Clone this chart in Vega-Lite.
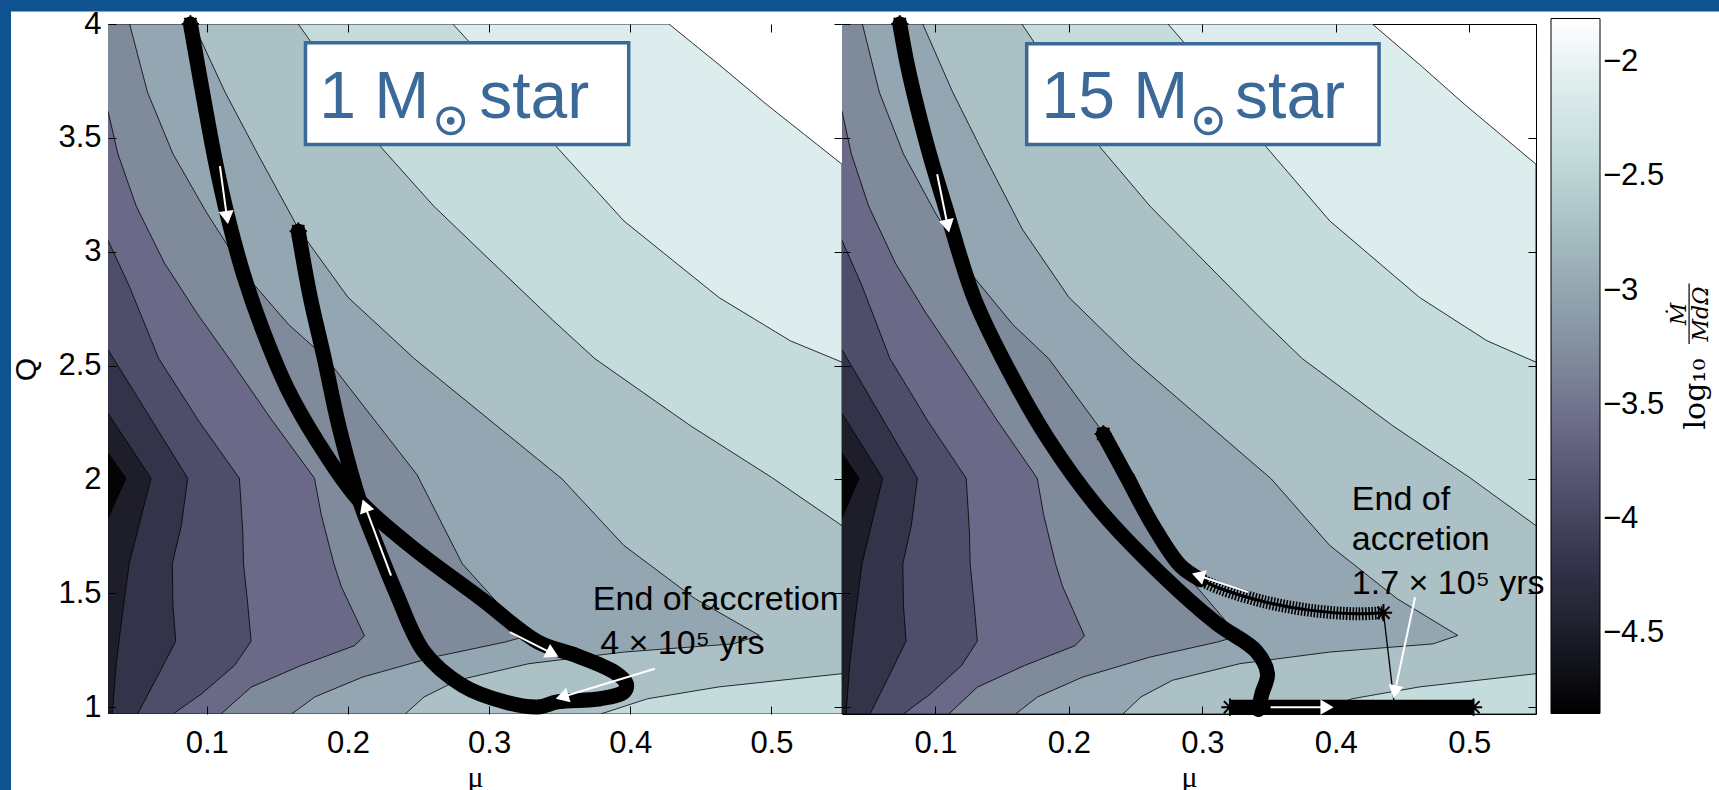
{
  "$schema": "https://vega.github.io/schema/vega-lite/v6.json",
  "background": "#0e5290",
  "padding": {"left": 10, "top": 7, "right": 0, "bottom": 0},
  "bounds": "flush",
  "spacing": 0,
  "config": {
    "view": {"stroke": "black", "strokeWidth": 1},
    "axis": {"grid": false, "labelFlush": false, "labelOverlap": false, "labelBound": false}
  },
  "datasets": {
    "poly": [
      {"p":1,"i":0,"mu":0.03,"q":4.0,"v":-2.1},{"p":1,"i":1,"mu":0.4274,"q":4.0,"v":-2.1},{"p":1,"i":2,"mu":0.4628,"q":3.822,"v":-2.1},{"p":1,"i":3,"mu":0.4965,"q":3.647,"v":-2.1},{"p":1,"i":4,"mu":0.5234,"q":3.515,"v":-2.1},{"p":1,"i":5,"mu":0.55,"q":3.384,"v":-2.1},{"p":1,"i":6,"mu":0.55,"q":0.97,"v":-2.1},{"p":1,"i":7,"mu":0.03,"q":0.97,"v":-2.1},
      {"p":2,"i":0,"mu":0.03,"q":4.0,"v":-2.4},{"p":2,"i":1,"mu":0.2743,"q":4.0,"v":-2.4},{"p":2,"i":2,"mu":0.3113,"q":3.749,"v":-2.4},{"p":2,"i":3,"mu":0.3483,"q":3.457,"v":-2.4},{"p":2,"i":4,"mu":0.3955,"q":3.135,"v":-2.4},{"p":2,"i":5,"mu":0.4628,"q":2.799,"v":-2.4},{"p":2,"i":6,"mu":0.5133,"q":2.609,"v":-2.4},{"p":2,"i":7,"mu":0.55,"q":2.515,"v":-2.4},{"p":2,"i":8,"mu":0.55,"q":0.97,"v":-2.4},{"p":2,"i":9,"mu":0.03,"q":0.97,"v":-2.4},
      {"p":3,"i":0,"mu":0.03,"q":4.0,"v":-2.7},{"p":3,"i":1,"mu":0.1648,"q":4.0,"v":-2.7},{"p":3,"i":2,"mu":0.1934,"q":3.749,"v":-2.7},{"p":3,"i":3,"mu":0.2237,"q":3.457,"v":-2.7},{"p":3,"i":4,"mu":0.2608,"q":3.2,"v":-2.7},{"p":3,"i":5,"mu":0.3113,"q":2.9,"v":-2.7},{"p":3,"i":6,"mu":0.345,"q":2.7,"v":-2.7},{"p":3,"i":7,"mu":0.375,"q":2.53,"v":-2.7},{"p":3,"i":8,"mu":0.4426,"q":2.236,"v":-2.7},{"p":3,"i":9,"mu":0.4999,"q":2.01,"v":-2.7},{"p":3,"i":10,"mu":0.55,"q":1.797,"v":-2.7},{"p":3,"i":11,"mu":0.55,"q":1.147,"v":-2.7},{"p":3,"i":12,"mu":0.4628,"q":1.089,"v":-2.7},{"p":3,"i":13,"mu":0.4123,"q":1.037,"v":-2.7},{"p":3,"i":14,"mu":0.379,"q":0.97,"v":-2.7},{"p":3,"i":15,"mu":0.03,"q":0.97,"v":-2.7},
      {"p":4,"i":0,"mu":0.03,"q":4.0,"v":-3.0},{"p":4,"i":1,"mu":0.0905,"q":4.0,"v":-3.0},{"p":4,"i":2,"mu":0.113,"q":3.7,"v":-3.0},{"p":4,"i":3,"mu":0.136,"q":3.43,"v":-3.0},{"p":4,"i":4,"mu":0.165,"q":3.1,"v":-3.0},{"p":4,"i":5,"mu":0.2,"q":2.8,"v":-3.0},{"p":4,"i":6,"mu":0.2473,"q":2.529,"v":-3.0},{"p":4,"i":7,"mu":0.3517,"q":2.002,"v":-3.0},{"p":4,"i":8,"mu":0.3955,"q":1.71,"v":-3.0},{"p":4,"i":9,"mu":0.446,"q":1.476,"v":-3.0},{"p":4,"i":10,"mu":0.4914,"q":1.315,"v":-3.0},{"p":4,"i":11,"mu":0.4729,"q":1.278,"v":-3.0},{"p":4,"i":12,"mu":0.3955,"q":1.242,"v":-3.0},{"p":4,"i":13,"mu":0.3281,"q":1.191,"v":-3.0},{"p":4,"i":14,"mu":0.2776,"q":1.118,"v":-3.0},{"p":4,"i":15,"mu":0.254,"q":1.045,"v":-3.0},{"p":4,"i":16,"mu":0.2405,"q":0.97,"v":-3.0},{"p":4,"i":17,"mu":0.03,"q":0.97,"v":-3.0},
      {"p":5,"i":0,"mu":0.03,"q":4.0,"v":-3.3},{"p":5,"i":1,"mu":0.0453,"q":4.0,"v":-3.3},{"p":5,"i":2,"mu":0.058,"q":3.7,"v":-3.3},{"p":5,"i":3,"mu":0.076,"q":3.43,"v":-3.3},{"p":5,"i":4,"mu":0.1,"q":3.17,"v":-3.3},{"p":5,"i":5,"mu":0.13,"q":2.88,"v":-3.3},{"p":5,"i":6,"mu":0.158,"q":2.68,"v":-3.3},{"p":5,"i":7,"mu":0.185,"q":2.53,"v":-3.3},{"p":5,"i":8,"mu":0.249,"q":2.02,"v":-3.3},{"p":5,"i":9,"mu":0.281,"q":1.63,"v":-3.3},{"p":5,"i":10,"mu":0.327,"q":1.313,"v":-3.3},{"p":5,"i":11,"mu":0.3113,"q":1.286,"v":-3.3},{"p":5,"i":12,"mu":0.2608,"q":1.22,"v":-3.3},{"p":5,"i":13,"mu":0.2103,"q":1.132,"v":-3.3},{"p":5,"i":14,"mu":0.1766,"q":1.045,"v":-3.3},{"p":5,"i":15,"mu":0.16,"q":0.97,"v":-3.3},{"p":5,"i":16,"mu":0.03,"q":0.97,"v":-3.3},
      {"p":6,"i":0,"mu":0.03,"q":3.617,"v":-3.6},{"p":6,"i":1,"mu":0.037,"q":3.43,"v":-3.6},{"p":6,"i":2,"mu":0.05,"q":3.2,"v":-3.6},{"p":6,"i":3,"mu":0.07,"q":2.95,"v":-3.6},{"p":6,"i":4,"mu":0.093,"q":2.73,"v":-3.6},{"p":6,"i":5,"mu":0.116,"q":2.53,"v":-3.6},{"p":6,"i":6,"mu":0.145,"q":2.27,"v":-3.6},{"p":6,"i":7,"mu":0.1763,"q":2.005,"v":-3.6},{"p":6,"i":8,"mu":0.181,"q":1.847,"v":-3.6},{"p":6,"i":9,"mu":0.19,"q":1.63,"v":-3.6},{"p":6,"i":10,"mu":0.1952,"q":1.531,"v":-3.6},{"p":6,"i":11,"mu":0.2117,"q":1.313,"v":-3.6},{"p":6,"i":12,"mu":0.2046,"q":1.27,"v":-3.6},{"p":6,"i":13,"mu":0.1668,"q":1.183,"v":-3.6},{"p":6,"i":14,"mu":0.1314,"q":1.088,"v":-3.6},{"p":6,"i":15,"mu":0.11,"q":0.97,"v":-3.6},{"p":6,"i":16,"mu":0.03,"q":0.97,"v":-3.6},
      {"p":7,"i":0,"mu":0.03,"q":3.05,"v":-3.9},{"p":7,"i":1,"mu":0.045,"q":2.85,"v":-3.9},{"p":7,"i":2,"mu":0.066,"q":2.53,"v":-3.9},{"p":7,"i":3,"mu":0.095,"q":2.25,"v":-3.9},{"p":7,"i":4,"mu":0.1231,"q":2.005,"v":-3.9},{"p":7,"i":5,"mu":0.1255,"q":1.768,"v":-3.9},{"p":7,"i":6,"mu":0.126,"q":1.63,"v":-3.9},{"p":7,"i":7,"mu":0.129,"q":1.452,"v":-3.9},{"p":7,"i":8,"mu":0.1314,"q":1.29,"v":-3.9},{"p":7,"i":9,"mu":0.1196,"q":1.183,"v":-3.9},{"p":7,"i":10,"mu":0.096,"q":1.057,"v":-3.9},{"p":7,"i":11,"mu":0.076,"q":0.97,"v":-3.9},{"p":7,"i":12,"mu":0.03,"q":0.97,"v":-3.9},
      {"p":8,"i":0,"mu":0.03,"q":2.57,"v":-4.2},{"p":8,"i":1,"mu":0.034,"q":2.53,"v":-4.2},{"p":8,"i":2,"mu":0.06,"q":2.27,"v":-4.2},{"p":8,"i":3,"mu":0.0865,"q":2.005,"v":-4.2},{"p":8,"i":4,"mu":0.082,"q":1.8,"v":-4.2},{"p":8,"i":5,"mu":0.0756,"q":1.63,"v":-4.2},{"p":8,"i":6,"mu":0.076,"q":1.45,"v":-4.2},{"p":8,"i":7,"mu":0.078,"q":1.29,"v":-4.2},{"p":8,"i":8,"mu":0.068,"q":1.17,"v":-4.2},{"p":8,"i":9,"mu":0.051,"q":0.97,"v":-4.2},{"p":8,"i":10,"mu":0.03,"q":0.97,"v":-4.2},
      {"p":9,"i":0,"mu":0.03,"q":2.29,"v":-4.5},{"p":9,"i":1,"mu":0.045,"q":2.15,"v":-4.5},{"p":9,"i":2,"mu":0.0605,"q":2.005,"v":-4.5},{"p":9,"i":3,"mu":0.052,"q":1.8,"v":-4.5},{"p":9,"i":4,"mu":0.045,"q":1.63,"v":-4.5},{"p":9,"i":5,"mu":0.04,"q":1.4,"v":-4.5},{"p":9,"i":6,"mu":0.036,"q":1.2,"v":-4.5},{"p":9,"i":7,"mu":0.033,"q":0.97,"v":-4.5},{"p":9,"i":8,"mu":0.03,"q":0.97,"v":-4.5},
      {"p":10,"i":0,"mu":0.03,"q":2.116,"v":-4.8},{"p":10,"i":1,"mu":0.0428,"q":2.005,"v":-4.8},{"p":10,"i":2,"mu":0.03,"q":1.831,"v":-4.8}
    ],
    "trajL": [
      {"id":"a","i":0,"mu":0.0884,"q":4.0},{"id":"a","i":1,"mu":0.097,"q":3.7},{"id":"a","i":2,"mu":0.106,"q":3.4},{"id":"a","i":3,"mu":0.115,"q":3.15},{"id":"a","i":4,"mu":0.126,"q":2.9},{"id":"a","i":5,"mu":0.14,"q":2.65},{"id":"a","i":6,"mu":0.157,"q":2.4},{"id":"a","i":7,"mu":0.178,"q":2.17},{"id":"a","i":8,"mu":0.207,"q":1.914},{"id":"a","i":9,"mu":0.2439,"q":1.71},{"id":"a","i":10,"mu":0.2944,"q":1.476},{"id":"a","i":11,"mu":0.3348,"q":1.286},{"id":"a","i":12,"mu":0.3618,"q":1.227},{"id":"a","i":13,"mu":0.3887,"q":1.154},{"id":"a","i":14,"mu":0.3972,"q":1.103},{"id":"a","i":15,"mu":0.3955,"q":1.067},{"id":"a","i":16,"mu":0.3787,"q":1.037},{"id":"a","i":17,"mu":0.3483,"q":1.023},{"id":"a","i":18,"mu":0.3348,"q":1.001},{"id":"a","i":19,"mu":0.3113,"q":1.023},{"id":"a","i":20,"mu":0.281,"q":1.096},{"id":"a","i":21,"mu":0.254,"q":1.242},{"id":"a","i":22,"mu":0.2339,"q":1.505},{"id":"a","i":23,"mu":0.2204,"q":1.71},{"id":"a","i":24,"mu":0.2086,"q":1.9},{"id":"a","i":25,"mu":0.1935,"q":2.236},{"id":"a","i":26,"mu":0.1833,"q":2.529},{"id":"a","i":27,"mu":0.1733,"q":2.8},{"id":"a","i":28,"mu":0.1648,"q":3.09}
    ],
    "trajR": [
      {"id":"m","k":"thick","i":0,"mu":0.0733,"q":4.0},{"id":"m","k":"thick","i":1,"mu":0.079,"q":3.82},{"id":"m","k":"thick","i":2,"mu":0.086,"q":3.643},{"id":"m","k":"thick","i":3,"mu":0.096,"q":3.42},{"id":"m","k":"thick","i":4,"mu":0.1072,"q":3.202},{"id":"m","k":"thick","i":5,"mu":0.1285,"q":2.804},{"id":"m","k":"thick","i":6,"mu":0.1496,"q":2.539},{"id":"m","k":"thick","i":7,"mu":0.1836,"q":2.185},{"id":"m","k":"thick","i":8,"mu":0.2217,"q":1.876},{"id":"m","k":"thick","i":9,"mu":0.2683,"q":1.589},{"id":"m","k":"thick","i":10,"mu":0.3107,"q":1.368},{"id":"m","k":"thick","i":11,"mu":0.3403,"q":1.246},{"id":"m","k":"thick","i":12,"mu":0.3488,"q":1.147},{"id":"m","k":"thick","i":13,"mu":0.3446,"q":1.058},{"id":"m","k":"thick","i":14,"mu":0.342,"q":0.99},
      {"id":"s","k":"thick","i":0,"mu":0.2258,"q":2.2},{"id":"s","k":"thick","i":1,"mu":0.2428,"q":2.017},{"id":"s","k":"thick","i":2,"mu":0.2631,"q":1.797},{"id":"s","k":"thick","i":3,"mu":0.2834,"q":1.622},{"id":"s","k":"thick","i":4,"mu":0.2985,"q":1.56},
      {"id":"h","k":"hatch","i":0,"mu":0.2985,"q":1.56},{"id":"h","k":"hatch","i":1,"mu":0.3139,"q":1.52},{"id":"h","k":"hatch","i":2,"mu":0.3478,"q":1.461},{"id":"h","k":"hatch","i":3,"mu":0.3815,"q":1.425},{"id":"h","k":"hatch","i":4,"mu":0.4154,"q":1.41},{"id":"h","k":"hatch","i":5,"mu":0.4357,"q":1.415},
      {"id":"b","k":"band","i":0,"mu":0.3207,"q":1.0},{"id":"b","k":"band","i":1,"mu":0.5032,"q":1.0},
      {"id":"c","k":"thin","i":0,"mu":0.4357,"q":1.415},{"id":"c","k":"thin","i":1,"mu":0.4442,"q":0.993}
    ],
    "starL": [
      {"mu":0.0884,"q":4.0},{"mu":0.1648,"q":3.09}
    ],
    "starR": [
      {"mu":0.0733,"q":4.0},{"mu":0.2258,"q":2.2},{"mu":0.4357,"q":1.415},{"mu":0.3207,"q":1.0},{"mu":0.5032,"q":1.0}
    ],
    "arrL": [
      {"mu":0.1093,"q":3.376,"mu2":0.1143,"q2":3.15,"ang":172},
      {"mu":0.2305,"q":1.578,"mu2":0.212,"q2":1.885,"ang":340},
      {"mu":0.3147,"q":1.33,"mu2":0.3449,"q2":1.235,"ang":117},
      {"mu":0.4174,"q":1.169,"mu2":0.3517,"q2":1.045,"ang":253}
    ],
    "arrR": [
      {"mu":0.1013,"q":3.34,"mu2":0.1092,"q2":3.113,"ang":168},
      {"mu":0.3343,"q":1.505,"mu2":0.2969,"q2":1.578,"ang":288},
      {"mu":0.3511,"q":1.0,"mu2":0.3934,"q2":1.0,"ang":90},
      {"mu":0.4594,"q":1.483,"mu2":0.4442,"q2":1.067,"ang":192}
    ],
    "txtL": [
      {"mu":0.3735,"q":1.4254,"t":"End of accretion"},
      {"mu":0.3787,"q":1.2346,"t":"4 × 10⁵ yrs"}
    ],
    "txtR": [
      {"mu":0.412,"q":1.8676,"t":"End of"},
      {"mu":0.412,"q":1.692,"t":"accretion"},
      {"mu":0.412,"q":1.4978,"t":"1.7 × 10⁵ yrs"}
    ]
  },
  "resolve": {"scale": {"color": "independent"}, "legend": {"color": "independent"}},
  "hconcat": [
    {
      "width": 734,
      "height": 690,
      "resolve": {"axis": {"x": "independent", "y": "independent"}},
      "layer": [
        {
          "data": {"values": [{"mu": -0.03872, "mu2": 1.17166, "q": 4.05489, "q2": 0.6186}]},
          "mark": {"type": "rect", "fill": "white", "clip": false},
          "encoding": {
            "x": {"field": "mu", "type": "quantitative", "scale": {"domain": [0.03, 0.55], "nice": false, "zero": false},
                  "axis": {"orient": "top", "values": [0.1, 0.2, 0.3, 0.4, 0.5], "labels": false, "title": null, "domain": false, "tickSize": -8, "tickColor": "black", "zindex": 1}},
            "x2": {"field": "mu2"},
            "y": {"field": "q", "type": "quantitative", "scale": {"domain": [0.97, 4], "nice": false, "zero": false},
                  "axis": {"orient": "right", "values": [1, 1.5, 2, 2.5, 3, 3.5, 4], "labels": false, "title": null, "domain": false, "tickSize": -8, "tickColor": "black", "zindex": 1}},
            "y2": {"field": "q2"}
          }
        },
        {
          "data": {"name": "poly"},
          "mark": {"type": "line", "filled": true, "stroke": "black", "strokeWidth": 0.8, "strokeJoin": "round", "clip": true},
          "encoding": {
            "x": {"field": "mu", "type": "quantitative",
                  "axis": {"orient": "bottom", "values": [0.1, 0.2, 0.3, 0.4, 0.5], "format": ".1f", "title": "μ", "titleFont": "Liberation Serif", "titleFontSize": 30, "titleFontWeight": "normal", "titleColor": "black", "titlePadding": 4, "labelFont": "Liberation Sans", "labelFontSize": 31, "labelColor": "black", "labelPadding": 22, "tickSize": -8, "tickColor": "black", "domain": false, "zindex": 1}},
            "y": {"field": "q", "type": "quantitative",
                  "axis": {"orient": "left", "values": [1, 1.5, 2, 2.5, 3, 3.5, 4], "format": "~g", "title": "Q", "titleFont": "Liberation Sans", "titleFontSize": 30, "titleFontWeight": "normal", "titleColor": "black", "titlePadding": 16, "labelFont": "Liberation Sans", "labelFontSize": 31, "labelColor": "black", "labelPadding": 15, "tickSize": -8, "tickColor": "black", "domain": false, "zindex": 1}},
            "detail": {"field": "p", "type": "nominal"},
            "order": {"field": "i", "type": "quantitative"},
            "color": {"field": "v", "type": "quantitative",
                      "scale": {"type": "linear", "domain": [-4.85, -4.5, -4.2, -3.9, -3.6, -3.3, -3.0, -2.7, -2.4, -2.1, -1.81],
                                "range": ["#000000", "#1e1e2a", "#33334a", "#4e4e6a", "#6a6a88", "#7f8b9b", "#94a6b1", "#abc1c5", "#c5dcdc", "#ddecec", "#ffffff"], "interpolate": "rgb"},
                      "legend": {"orient": "none", "legendX": 1443, "legendY": -5.5, "direction": "vertical", "gradientLength": 695, "gradientThickness": 49, "title": null, "values": [-4.5, -4, -3.5, -3, -2.5, -2], "format": "~g", "labelFont": "Liberation Sans", "labelFontSize": 31, "labelColor": "black", "labelOffset": 3, "labelOverlap": false, "gradientStrokeColor": "black", "gradientStrokeWidth": 1, "zindex": 1, "padding": 0}}
          }
        },
        {
          "data": {"name": "trajL"},
          "mark": {"type": "line", "color": "black", "strokeWidth": 15, "strokeCap": "round", "strokeJoin": "round", "interpolate": "catmull-rom"},
          "encoding": {
            "x": {"field": "mu", "type": "quantitative", "axis": null},
            "y": {"field": "q", "type": "quantitative", "axis": null},
            "detail": {"field": "id", "type": "nominal"},
            "order": {"field": "i", "type": "quantitative"}
          }
        },
        {
          "data": {"name": "starL"},
          "mark": {"type": "point", "shape": "M-1,0L1,0M0,-1L0,1M-0.7,-0.7L0.7,0.7M-0.7,0.7L0.7,-0.7", "filled": false, "color": "black", "strokeWidth": 2, "size": 300, "opacity": 1},
          "encoding": {
            "x": {"field": "mu", "type": "quantitative", "axis": null},
            "y": {"field": "q", "type": "quantitative", "axis": null}
          }
        },
        {
          "data": {"name": "arrL"},
          "mark": {"type": "rule", "color": "white", "strokeWidth": 2},
          "encoding": {
            "x": {"field": "mu", "type": "quantitative", "axis": null},
            "y": {"field": "q", "type": "quantitative", "axis": null},
            "x2": {"field": "mu2"},
            "y2": {"field": "q2"}
          }
        },
        {
          "data": {"name": "arrL"},
          "mark": {"type": "point", "shape": "triangle-up", "filled": true, "color": "white", "size": 230, "opacity": 1},
          "encoding": {
            "x": {"field": "mu2", "type": "quantitative", "axis": null},
            "y": {"field": "q2", "type": "quantitative", "axis": null},
            "angle": {"field": "ang", "type": "quantitative", "scale": {"domain": [0, 360], "range": [0, 360]}}
          }
        },
        {
          "data": {"name": "txtL"},
          "mark": {"type": "text", "align": "left", "baseline": "alphabetic", "font": "Liberation Sans", "fontSize": 34, "color": "black"},
          "encoding": {
            "x": {"field": "mu", "type": "quantitative", "axis": null},
            "y": {"field": "q", "type": "quantitative", "axis": null},
            "text": {"field": "t"}
          }
        },
        {
          "data": {"values": [{"mu": 0.1699, "mu2": 0.3989, "q": 3.918, "q2": 3.471}]},
          "mark": {"type": "rect", "fill": "white", "stroke": "#3b6a98", "strokeWidth": 3.5},
          "encoding": {
            "x": {"field": "mu", "type": "quantitative", "axis": null},
            "x2": {"field": "mu2"},
            "y": {"field": "q", "type": "quantitative", "axis": null},
            "y2": {"field": "q2"}
          }
        },
        {
          "data": {"values": [{"mu": 0.1796, "q": 3.589, "t": "1 M"}, {"mu": 0.293, "q": 3.589, "t": "star"}]},
          "mark": {"type": "text", "align": "left", "baseline": "alphabetic", "font": "Liberation Sans", "fontSize": 66, "color": "#3b6a98"},
          "encoding": {
            "x": {"field": "mu", "type": "quantitative", "axis": null},
            "y": {"field": "q", "type": "quantitative", "axis": null},
            "text": {"field": "t"}
          }
        },
        {
          "data": {"values": [{"mu": 0.2728, "q": 3.575}]},
          "mark": {"type": "point", "shape": "circle", "filled": false, "stroke": "#3b6a98", "strokeWidth": 3.5, "size": 640, "opacity": 1},
          "encoding": {
            "x": {"field": "mu", "type": "quantitative", "axis": null},
            "y": {"field": "q", "type": "quantitative", "axis": null}
          }
        },
        {
          "data": {"values": [{"mu": 0.2728, "q": 3.575}]},
          "mark": {"type": "circle", "color": "#3b6a98", "size": 60, "opacity": 1},
          "encoding": {
            "x": {"field": "mu", "type": "quantitative", "axis": null},
            "y": {"field": "q", "type": "quantitative", "axis": null}
          }
        }
      ]
    },
    {
      "width": 694,
      "height": 690,
      "resolve": {"axis": {"x": "independent", "y": "independent"}},
      "layer": [
        {
          "data": {"name": "poly"},
          "mark": {"type": "line", "filled": true, "stroke": "black", "strokeWidth": 0.8, "strokeJoin": "round", "clip": true},
          "encoding": {
            "x": {"field": "mu", "type": "quantitative", "scale": {"domain": [0.03, 0.55], "nice": false, "zero": false},
                  "axis": {"orient": "bottom", "values": [0.1, 0.2, 0.3, 0.4, 0.5], "format": ".1f", "title": "μ", "titleFont": "Liberation Serif", "titleFontSize": 30, "titleFontWeight": "normal", "titleColor": "black", "titlePadding": 4, "labelFont": "Liberation Sans", "labelFontSize": 31, "labelColor": "black", "labelPadding": 22, "tickSize": -8, "tickColor": "black", "domain": false, "zindex": 1}},
            "y": {"field": "q", "type": "quantitative", "scale": {"domain": [0.97, 4], "nice": false, "zero": false},
                  "axis": {"orient": "left", "values": [1, 1.5, 2, 2.5, 3, 3.5, 4], "labels": false, "title": null, "tickSize": -8, "tickColor": "black", "domain": false, "zindex": 1}},
            "detail": {"field": "p", "type": "nominal"},
            "order": {"field": "i", "type": "quantitative"},
            "color": {"field": "v", "type": "quantitative",
                      "scale": {"type": "linear", "domain": [-4.85, -4.5, -4.2, -3.9, -3.6, -3.3, -3.0, -2.7, -2.4, -2.1, -1.81],
                                "range": ["#000000", "#1e1e2a", "#33334a", "#4e4e6a", "#6a6a88", "#7f8b9b", "#94a6b1", "#abc1c5", "#c5dcdc", "#ddecec", "#ffffff"], "interpolate": "rgb"},
                      "legend": null}
          }
        },
        {
          "data": {"name": "trajR"},
          "transform": [{"filter": "datum.k == 'thick'"}],
          "mark": {"type": "line", "color": "black", "strokeWidth": 15, "strokeCap": "round", "strokeJoin": "round", "interpolate": "catmull-rom"},
          "encoding": {
            "x": {"field": "mu", "type": "quantitative",
                  "axis": {"orient": "top", "values": [0.1, 0.2, 0.3, 0.4, 0.5], "labels": false, "title": null, "domain": false, "tickSize": -8, "tickColor": "black", "zindex": 1}},
            "y": {"field": "q", "type": "quantitative",
                  "axis": {"orient": "right", "values": [1, 1.5, 2, 2.5, 3, 3.5, 4], "labels": false, "title": null, "domain": false, "tickSize": -8, "tickColor": "black", "zindex": 1}},
            "detail": {"field": "id", "type": "nominal"},
            "order": {"field": "i", "type": "quantitative"}
          }
        },
        {
          "data": {"name": "trajR"},
          "transform": [{"filter": "datum.k == 'band'"}],
          "mark": {"type": "line", "color": "black", "strokeWidth": 15, "strokeCap": "butt"},
          "encoding": {
            "x": {"field": "mu", "type": "quantitative", "axis": null},
            "y": {"field": "q", "type": "quantitative", "axis": null},
            "detail": {"field": "id", "type": "nominal"},
            "order": {"field": "i", "type": "quantitative"}
          }
        },
        {
          "data": {"name": "trajR"},
          "transform": [{"filter": "datum.k == 'hatch'"}],
          "mark": {"type": "line", "color": "black", "strokeWidth": 3, "strokeCap": "round", "interpolate": "catmull-rom"},
          "encoding": {
            "x": {"field": "mu", "type": "quantitative", "axis": null},
            "y": {"field": "q", "type": "quantitative", "axis": null},
            "detail": {"field": "id", "type": "nominal"},
            "order": {"field": "i", "type": "quantitative"}
          }
        },
        {
          "data": {"name": "trajR"},
          "transform": [{"filter": "datum.k == 'hatch'"}],
          "mark": {"type": "line", "color": "black", "strokeWidth": 13, "strokeDash": [1.6, 1.6], "strokeCap": "butt", "interpolate": "catmull-rom"},
          "encoding": {
            "x": {"field": "mu", "type": "quantitative", "axis": null},
            "y": {"field": "q", "type": "quantitative", "axis": null},
            "detail": {"field": "id", "type": "nominal"},
            "order": {"field": "i", "type": "quantitative"}
          }
        },
        {
          "data": {"name": "trajR"},
          "transform": [{"filter": "datum.k == 'thin'"}],
          "mark": {"type": "line", "color": "black", "strokeWidth": 1.3},
          "encoding": {
            "x": {"field": "mu", "type": "quantitative", "axis": null},
            "y": {"field": "q", "type": "quantitative", "axis": null},
            "detail": {"field": "id", "type": "nominal"},
            "order": {"field": "i", "type": "quantitative"}
          }
        },
        {
          "data": {"name": "starR"},
          "mark": {"type": "point", "shape": "M-1,0L1,0M0,-1L0,1M-0.7,-0.7L0.7,0.7M-0.7,0.7L0.7,-0.7", "filled": false, "color": "black", "strokeWidth": 2, "size": 300, "opacity": 1},
          "encoding": {
            "x": {"field": "mu", "type": "quantitative", "axis": null},
            "y": {"field": "q", "type": "quantitative", "axis": null}
          }
        },
        {
          "data": {"name": "arrR"},
          "mark": {"type": "rule", "color": "white", "strokeWidth": 2},
          "encoding": {
            "x": {"field": "mu", "type": "quantitative", "axis": null},
            "y": {"field": "q", "type": "quantitative", "axis": null},
            "x2": {"field": "mu2"},
            "y2": {"field": "q2"}
          }
        },
        {
          "data": {"name": "arrR"},
          "mark": {"type": "point", "shape": "triangle-up", "filled": true, "color": "white", "size": 230, "opacity": 1},
          "encoding": {
            "x": {"field": "mu2", "type": "quantitative", "axis": null},
            "y": {"field": "q2", "type": "quantitative", "axis": null},
            "angle": {"field": "ang", "type": "quantitative", "scale": {"domain": [0, 360], "range": [0, 360]}}
          }
        },
        {
          "data": {"name": "txtR"},
          "mark": {"type": "text", "align": "left", "baseline": "alphabetic", "font": "Liberation Sans", "fontSize": 34, "color": "black"},
          "encoding": {
            "x": {"field": "mu", "type": "quantitative", "axis": null},
            "y": {"field": "q", "type": "quantitative", "axis": null},
            "text": {"field": "t"}
          }
        },
        {
          "data": {"values": [{"mu": 0.1684, "mu2": 0.4324, "q": 3.913, "q2": 3.471}]},
          "mark": {"type": "rect", "fill": "white", "stroke": "#3b6a98", "strokeWidth": 3.5},
          "encoding": {
            "x": {"field": "mu", "type": "quantitative", "axis": null},
            "x2": {"field": "mu2"},
            "y": {"field": "q", "type": "quantitative", "axis": null},
            "y2": {"field": "q2"}
          }
        },
        {
          "data": {"values": [{"mu": 0.1795, "q": 3.589, "t": "15 M"}, {"mu": 0.3245, "q": 3.589, "t": "star"}]},
          "mark": {"type": "text", "align": "left", "baseline": "alphabetic", "font": "Liberation Sans", "fontSize": 66, "color": "#3b6a98"},
          "encoding": {
            "x": {"field": "mu", "type": "quantitative", "axis": null},
            "y": {"field": "q", "type": "quantitative", "axis": null},
            "text": {"field": "t"}
          }
        },
        {
          "data": {"values": [{"mu": 0.3045, "q": 3.575}]},
          "mark": {"type": "point", "shape": "circle", "filled": false, "stroke": "#3b6a98", "strokeWidth": 3.5, "size": 640, "opacity": 1},
          "encoding": {
            "x": {"field": "mu", "type": "quantitative", "axis": null},
            "y": {"field": "q", "type": "quantitative", "axis": null}
          }
        },
        {
          "data": {"values": [{"mu": 0.3045, "q": 3.575}]},
          "mark": {"type": "circle", "color": "#3b6a98", "size": 60, "opacity": 1},
          "encoding": {
            "x": {"field": "mu", "type": "quantitative", "axis": null},
            "y": {"field": "q", "type": "quantitative", "axis": null}
          }
        },
        {
          "data": {"values": [{"mu": 0.6699, "q": 2.375, "t": "log₁₀"}]},
          "mark": {"type": "text", "align": "center", "baseline": "middle", "angle": 270, "font": "DejaVu Serif", "fontSize": 30, "color": "black"},
          "encoding": {
            "x": {"field": "mu", "type": "quantitative", "axis": null},
            "y": {"field": "q", "type": "quantitative", "axis": null},
            "text": {"field": "t"}
          }
        },
        {
          "data": {"values": [{"mu": 0.6572, "q": 2.7264, "t": "Ṁ"}, {"mu": 0.674, "q": 2.7264, "t": "MdΩ"}]},
          "mark": {"type": "text", "align": "center", "baseline": "middle", "angle": 270, "font": "DejaVu Serif", "fontStyle": "italic", "fontSize": 22, "color": "black"},
          "encoding": {
            "x": {"field": "mu", "type": "quantitative", "axis": null},
            "y": {"field": "q", "type": "quantitative", "axis": null},
            "text": {"field": "t"}
          }
        },
        {
          "data": {"values": [{"mu": 0.6647, "q": 2.86, "q2": 2.595}]},
          "mark": {"type": "rule", "color": "black", "strokeWidth": 1.2},
          "encoding": {
            "x": {"field": "mu", "type": "quantitative", "axis": null},
            "y": {"field": "q", "type": "quantitative", "axis": null},
            "y2": {"field": "q2"}
          }
        }
      ]
    }
  ]
}
